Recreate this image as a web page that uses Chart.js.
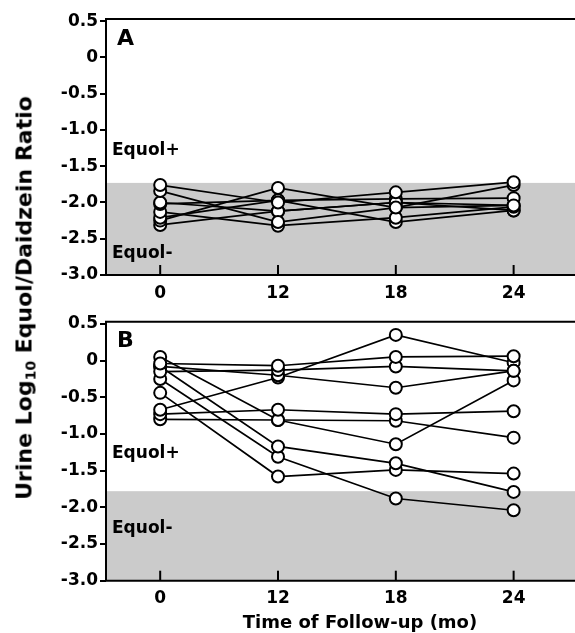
<!DOCTYPE html>
<html><head><meta charset="utf-8">
<script src="https://cdn.jsdelivr.net/npm/chart.js@4"></script>
<style>
html,body{margin:0;padding:0;background:#fff;width:575px;height:633px;overflow:hidden;}
#wrap{position:relative;width:575px;height:633px;}
.pane{position:absolute;left:0;width:575px;height:310px;}
#ytitle{position:absolute;left:24px;top:298px;transform:translate(-50%,-50%) rotate(-90deg);white-space:nowrap;font:bold 22px "DejaVu Sans";color:#000;}
#ytitle sub{font-size:14px;vertical-align:-4px;line-height:0;}
#xtitle{position:absolute;left:360px;top:621px;transform:translate(-50%,-50%);white-space:nowrap;font:bold 18px "DejaVu Sans";color:#000;}
</style></head>
<body>
<div id="wrap">
<div class="pane" style="top:0"><canvas id="cA" width="575" height="310"></canvas></div>
<div class="pane" style="top:305px"><canvas id="cB" width="575" height="310"></canvas></div>
<div id="ytitle">Urine Log<sub>10</sub> Equol/Daidzein Ratio</div>
<div id="xtitle">Time of Follow-up (mo)</div>
</div>
<script>
// Categories (follow-up months) and their positions on the x scale
const timeLabels = ['0', '12', '18', '24'];
const xPositions = [0, 1, 2, 3];

// Y tick values and labels
const yTickValues = [0.5, 0, -0.5, -1, -1.5, -2, -2.5, -3];
const yTickLabels = ['0.5', '0', '-0.5', '-1.0', '-1.5', '-2.0', '-2.5', '-3.0'];

// Panel A: Equol- subjects (log10 equol/daidzein ratio at 0, 12, 18, 24 mo)
const a1 = [-1.76, -2.00, -1.86, -1.72];
const a2 = [-1.84, -2.27, -2.07, -1.76];
const a3 = [-2.00, -2.12, -2.00, -2.04];
const a4 = [-2.02, -1.97, -1.95, -1.94];
const a5 = [-2.13, -2.32, -2.21, -2.06];
const a6 = [-2.21, -1.97, -2.27, -2.11];
const a7 = [-2.25, -1.80, -2.07, -2.04];
const a8 = [-2.31, -2.12, -2.00, -2.11];

// Panel B: Equol+ subjects
const b1 = [-0.04, -0.07, 0.05, 0.06];
const b2 = [-0.15, -0.13, -0.08, -0.14];
const b3 = [-0.08, -0.20, -0.37, -0.14];
const b4 = [-0.67, -0.23, 0.35, -0.03];
const b5 = [-0.73, -0.67, -0.73, -0.69];
const b6 = [-0.80, -0.81, -0.82, -1.05];
const b7 = [0.05, -0.81, -1.14, -0.27];
const b8 = [-0.08, -1.17, -1.40, -1.79];
const b9 = [-0.25, -1.31, -1.88, -2.04];
const b10 = [-0.44, -1.58, -1.49, -1.54];

// Equol+/- cutoff (shading boundary) per panel
const cutoffA = -1.73;
const cutoffB = -1.78;

const seriesA = [a1, a2, a3, a4, a5, a6, a7, a8];
const seriesB = [b1, b2, b3, b4, b5, b6, b7, b8, b9, b10];

const FONT = 'DejaVu Sans';

function panelPlugin(letter, cutoff, plusVal, minusVal, letterVal) {
  return {
    id: 'panel' + letter,
    beforeDatasetsDraw(chart) {
      const { ctx, chartArea: a, scales: { y } } = chart;
      const top = y.getPixelForValue(cutoff);
      ctx.save();
      ctx.fillStyle = '#cbcbcb';
      ctx.fillRect(a.left, top, chart.width - a.left, a.bottom - top);
      ctx.restore();
    },
    afterDraw(chart) {
      const { ctx, chartArea: a, scales: { x, y } } = chart;
      ctx.save();
      ctx.strokeStyle = '#000';
      ctx.lineWidth = 2;
      ctx.beginPath();
      ctx.moveTo(chart.width, a.top);
      ctx.lineTo(a.left, a.top);
      ctx.lineTo(a.left, a.bottom);
      ctx.lineTo(chart.width, a.bottom);
      ctx.stroke();
      x.ticks.forEach(t => {
        const px = x.getPixelForValue(t.value);
        ctx.beginPath();
        ctx.moveTo(px, a.bottom);
        ctx.lineTo(px, a.bottom - 10);
        ctx.stroke();
      });
      ctx.fillStyle = '#000';
      ctx.textBaseline = 'middle';
      ctx.textAlign = 'left';
      ctx.font = 'bold 22px "' + FONT + '"';
      ctx.fillText(letter, a.left + 11, y.getPixelForValue(letterVal));
      ctx.font = 'bold 17px "' + FONT + '"';
      ctx.fillText('Equol+', a.left + 6, y.getPixelForValue(plusVal));
      ctx.fillText('Equol-', a.left + 6, y.getPixelForValue(minusVal));
      ctx.restore();
    }
  };
}

function makeChart(id, series, padTop, xH, plugin) {
  const toPts = s => s.map((v, i) => ({ x: xPositions[i], y: v }));
  const lineSets = series.map(s => ({
    data: toPts(s), showLine: true, borderColor: '#000', borderWidth: 1.7,
    pointRadius: 0, fill: false, order: 1
  }));
  const pointSets = series.map(s => ({
    data: toPts(s), showLine: false, pointRadius: 6,
    pointBackgroundColor: '#fff', pointBorderColor: '#000', pointBorderWidth: 2, order: 0
  }));
  const tickFont = { family: FONT, weight: 'bold', size: 17 };
  return new Chart(document.getElementById(id), {
    type: 'scatter',
    data: { datasets: [...lineSets, ...pointSets] },
    options: {
      responsive: false, animation: false, events: [],
      plugins: { legend: { display: false }, tooltip: { enabled: false } },
      layout: { padding: { top: padTop, left: 0, right: 0, bottom: 0 } },
      scales: {
        x: {
          type: 'linear', min: -0.46, max: 3.453,
          afterBuildTicks: s => { s.ticks = xPositions.map(v => ({ value: v })); },
          afterFit: s => { s.height = xH; },
          grid: { display: false, drawTicks: false }, border: { display: false },
          ticks: { padding: 8, color: '#000', font: tickFont, maxRotation: 0,
                   callback: (v, i) => timeLabels[i] }
        },
        y: {
          type: 'linear', min: -3, max: 0.53,
          afterBuildTicks: s => { s.ticks = yTickValues.map(v => ({ value: v })); },
          afterFit: s => { s.width = 106; },
          grid: { drawOnChartArea: false, color: '#000', lineWidth: 2, tickLength: 6 },
          border: { display: false },
          ticks: { padding: 2, color: '#000', font: tickFont, callback: (v, i) => yTickLabels[i] }
        }
      }
    },
    plugins: [plugin]
  });
}

makeChart('cA', seriesA, 19, 35, panelPlugin('A', cutoffA, -1.28, -2.71, 0.25));
makeChart('cB', seriesB, 16.7, 34.3, panelPlugin('B', cutoffB, -1.27, -2.29, 0.26));
</script>
</body></html>
